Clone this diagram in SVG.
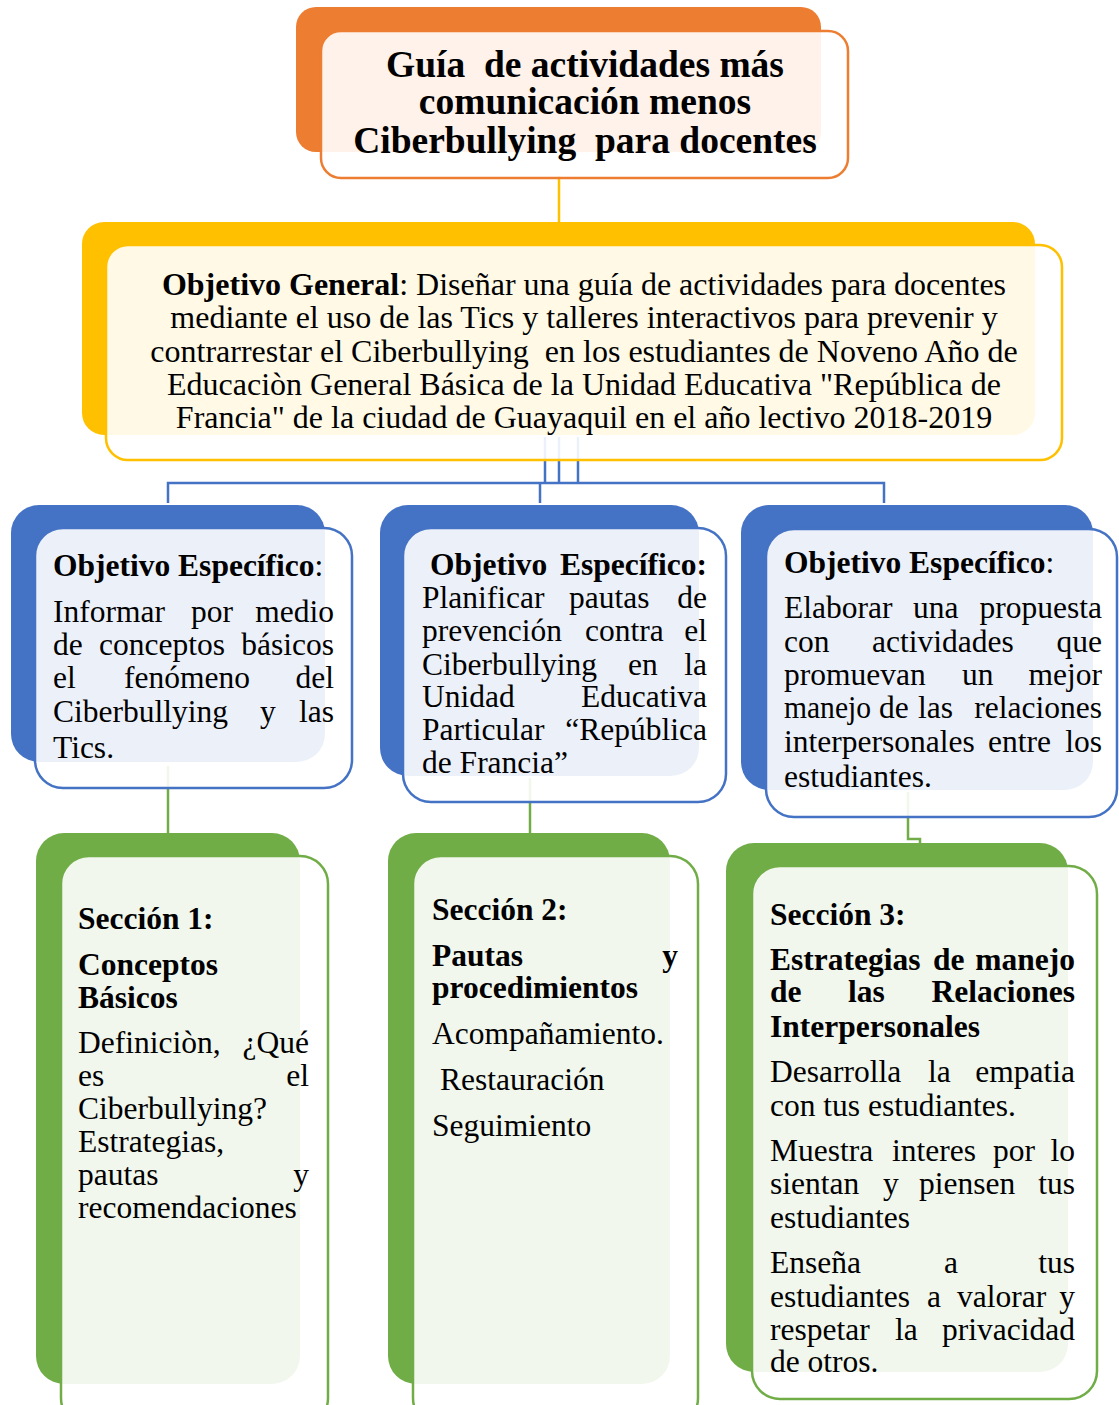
<svg xmlns="http://www.w3.org/2000/svg" width="1119" height="1405" viewBox="0 0 1119 1405">
<style>
.t{font-family:"Liberation Serif","Times New Roman",serif;font-size:31.5px;fill:#000}
.g{font-size:32px}
.b{font-weight:bold}
.e{text-anchor:end}
.m{text-anchor:middle}
.ttl{font-size:37.5px;font-weight:bold}
.fr{fill:#fff;fill-opacity:0.9;stroke-width:2.5}
.cb{stroke:#4472C4;stroke-width:2.5;fill:none}
.cg{stroke:#70AD47;stroke-width:2.5;fill:none}
.cy{stroke:#FFC000;stroke-width:2.5;fill:none}
</style>
<rect width="1119" height="1405" fill="#fff"/>
<g id="connectors">
<line class="cy" x1="559" y1="176" x2="559" y2="224"/>
<path class="cb" d="M545 437V483M559 437V483M578 437V483M168 503V483H884V503M540 483V503"/>
<line class="cg" x1="168" y1="766" x2="168" y2="835"/>
<line class="cg" x1="530" y1="778" x2="530" y2="835"/>
<path class="cg" d="M908 792V839H920V845"/>
</g>
<g id="title">
<rect x="296" y="7" width="525" height="145" rx="20" fill="#ED7D31"/>
<rect class="fr" x="321" y="31" width="527" height="147" rx="20" stroke="#ED7D31"/>
<text class="t ttl m" x="585" y="77" xml:space="preserve">Guía  de actividades más</text>
<text class="t ttl m" x="585" y="114">comunicación menos</text>
<text class="t ttl m" x="585" y="153" xml:space="preserve">Ciberbullying  para docentes</text>
</g>
<g id="general">
<rect x="82" y="222" width="953" height="213" rx="22" fill="#FFC000"/>
<rect class="fr" x="106" y="245" width="956" height="215" rx="22" stroke="#FFC000"/>
<text class="t g m" x="584" y="295"><tspan class="b">Objetivo General</tspan>: Diseñar una guía de actividades para docentes</text>
<text class="t g m" x="584" y="328">mediante el uso de las Tics y talleres interactivos para prevenir y</text>
<text class="t g m" x="584" y="362" xml:space="preserve">contrarrestar el Ciberbullying  en los estudiantes de Noveno Año de</text>
<text class="t g m" x="584" y="395">Educaciòn General Básica de la Unidad Educativa "República de</text>
<text class="t g m" x="584" y="428">Francia" de la ciudad de Guayaquil en el año lectivo 2018-2019</text>
</g>
<g id="objetivo1">
<rect x="11" y="505" width="314" height="257" rx="28" fill="#4472C4"/>
<rect class="fr" x="35" y="528" width="317" height="260" rx="28" stroke="#4472C4"/>
<text class="t" x="53" y="576"><tspan class="b">Objetivo Específico</tspan>:</text>
<text class="t" x="53" y="622">Informar</text><text class="t" x="191" y="622">por</text><text class="t e" x="334" y="622">medio</text>
<text class="t" x="53" y="655">de</text><text class="t" x="99" y="655">conceptos</text><text class="t e" x="334" y="655">básicos</text>
<text class="t" x="53" y="688">el</text><text class="t" x="124" y="688">fenómeno</text><text class="t e" x="334" y="688">del</text>
<text class="t" x="53" y="722">Ciberbullying</text><text class="t" x="260" y="722">y</text><text class="t e" x="334" y="722">las</text>
<text class="t" x="53" y="758">Tics.</text>
</g>
<g id="objetivo2">
<rect x="380" y="505" width="319" height="271" rx="28" fill="#4472C4"/>
<rect class="fr" x="403" y="528" width="323" height="274" rx="28" stroke="#4472C4"/>
<text class="t b" x="430" y="575">Objetivo</text><text class="t b e" x="707" y="575">Específico:</text>
<text class="t" x="422" y="608">Planificar</text><text class="t" x="569" y="608">pautas</text><text class="t e" x="707" y="608">de</text>
<text class="t" x="422" y="641">prevención</text><text class="t" x="585" y="641">contra</text><text class="t e" x="707" y="641">el</text>
<text class="t" x="422" y="675">Ciberbullying</text><text class="t" x="628" y="675">en</text><text class="t e" x="707" y="675">la</text>
<text class="t" x="422" y="707">Unidad</text><text class="t e" x="707" y="707">Educativa</text>
<text class="t" x="422" y="740">Particular</text><text class="t e" x="707" y="740">“República</text>
<text class="t" x="422" y="773">de Francia”</text>
</g>
<g id="objetivo3">
<rect x="741" y="505" width="352" height="285" rx="28" fill="#4472C4"/>
<rect class="fr" x="766" y="529" width="351" height="288" rx="28" stroke="#4472C4"/>
<text class="t" x="784" y="573"><tspan class="b">Objetivo Específico</tspan>:</text>
<text class="t" x="784" y="618">Elaborar</text><text class="t" x="913" y="618">una</text><text class="t e" x="1102" y="618">propuesta</text>
<text class="t" x="784" y="652">con</text><text class="t" x="872" y="652">actividades</text><text class="t e" x="1102" y="652">que</text>
<text class="t" x="784" y="685">promuevan</text><text class="t" x="962" y="685">un</text><text class="t e" x="1102" y="685">mejor</text>
<text class="t" x="784" y="718" textLength="87" lengthAdjust="spacingAndGlyphs">manejo</text><text class="t" x="879" y="718">de</text><text class="t" x="918" y="718">las</text><text class="t e" x="1102" y="718">relaciones</text>
<text class="t" x="784" y="752">interpersonales</text><text class="t" x="988" y="752">entre</text><text class="t e" x="1102" y="752">los</text>
<text class="t" x="784" y="787">estudiantes.</text>
</g>
<g id="seccion1">
<rect x="36" y="833" width="264" height="551" rx="28" fill="#70AD47"/>
<rect class="fr" x="61" y="856" width="267" height="570" rx="28" stroke="#70AD47"/>
<text class="t b" x="78" y="929">Sección 1:</text>
<text class="t b" x="78" y="975">Conceptos</text>
<text class="t b" x="78" y="1008">Básicos</text>
<text class="t" x="78" y="1053">Definiciòn,</text><text class="t e" x="309" y="1053">¿Qué</text>
<text class="t" x="78" y="1086">es</text><text class="t e" x="309" y="1086">el</text>
<text class="t" x="78" y="1119">Ciberbullying?</text>
<text class="t" x="78" y="1152">Estrategias,</text>
<text class="t" x="78" y="1185">pautas</text><text class="t e" x="309" y="1185">y</text>
<text class="t" x="78" y="1218">recomendaciones</text>
</g>
<g id="seccion2">
<rect x="388" y="833" width="282" height="551" rx="28" fill="#70AD47"/>
<rect class="fr" x="413" y="856" width="285" height="570" rx="28" stroke="#70AD47"/>
<text class="t b" x="432" y="920">Sección 2:</text>
<text class="t b" x="432" y="966">Pautas</text><text class="t b e" x="678" y="966">y</text>
<text class="t b" x="432" y="998">procedimientos</text>
<text class="t" x="432" y="1044">Acompañamiento.</text>
<text class="t" x="440" y="1090">Restauración</text>
<text class="t" x="432" y="1136">Seguimiento</text>
</g>
<g id="seccion3">
<rect x="726" y="843" width="342" height="529" rx="28" fill="#70AD47"/>
<rect class="fr" x="752" y="866" width="345" height="533" rx="28" stroke="#70AD47"/>
<text class="t b" x="770" y="925">Sección 3:</text>
<text class="t b" x="770" y="970">Estrategias</text><text class="t b" x="933" y="970">de</text><text class="t b e" x="1075" y="970">manejo</text>
<text class="t b" x="770" y="1002">de</text><text class="t b" x="848" y="1002">las</text><text class="t b e" x="1075" y="1002">Relaciones</text>
<text class="t b" x="770" y="1037">Interpersonales</text>
<text class="t" x="770" y="1082">Desarrolla</text><text class="t" x="928" y="1082">la</text><text class="t e" x="1075" y="1082">empatia</text>
<text class="t" x="770" y="1116">con tus estudiantes.</text>
<text class="t" x="770" y="1161">Muestra</text><text class="t" x="892" y="1161">interes</text><text class="t" x="993" y="1161">por</text><text class="t e" x="1075" y="1161">lo</text>
<text class="t" x="770" y="1194">sientan</text><text class="t" x="883" y="1194">y</text><text class="t" x="919" y="1194">piensen</text><text class="t e" x="1075" y="1194">tus</text>
<text class="t" x="770" y="1228">estudiantes</text>
<text class="t" x="770" y="1273">Enseña</text><text class="t" x="944" y="1273">a</text><text class="t e" x="1075" y="1273">tus</text>
<text class="t" x="770" y="1307">estudiantes</text><text class="t" x="927" y="1307">a</text><text class="t" x="957" y="1307">valorar</text><text class="t e" x="1075" y="1307">y</text>
<text class="t" x="770" y="1340">respetar</text><text class="t" x="895" y="1340">la</text><text class="t e" x="1075" y="1340">privacidad</text>
<text class="t" x="770" y="1372">de otros.</text>
</g>
</svg>
